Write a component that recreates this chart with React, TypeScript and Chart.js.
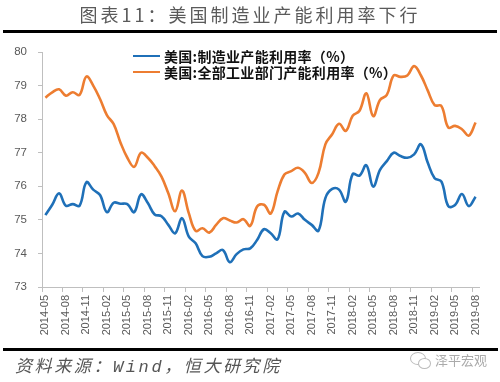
import { useEffect, useRef } from "react";
import { Chart, registerables } from "chart.js";

Chart.register(...registerables);

const months = [
  "2014-05", "2014-06", "2014-07", "2014-08", "2014-09", "2014-10", "2014-11", "2014-12",
  "2015-01", "2015-02", "2015-03", "2015-04", "2015-05", "2015-06", "2015-07", "2015-08",
  "2015-09", "2015-10", "2015-11", "2015-12",
  "2016-01", "2016-02", "2016-03", "2016-04", "2016-05", "2016-06", "2016-07", "2016-08",
  "2016-09", "2016-10", "2016-11", "2016-12",
  "2017-01", "2017-02", "2017-03", "2017-04", "2017-05", "2017-06", "2017-07", "2017-08",
  "2017-09", "2017-10", "2017-11", "2017-12",
  "2018-01", "2018-02", "2018-03", "2018-04", "2018-05", "2018-06", "2018-07", "2018-08",
  "2018-09", "2018-10", "2018-11", "2018-12",
  "2019-01", "2019-02", "2019-03", "2019-04", "2019-05", "2019-06", "2019-07", "2019-08",
];

const manufacturing = [
  75.14, 75.45, 75.79, 75.42, 75.47, 75.42, 76.12, 75.9,
  75.74, 75.23, 75.51, 75.48, 75.47, 75.23, 75.76, 75.5,
  75.16, 75.11, 74.85, 74.6,
  75.05, 74.5, 74.3, 73.92, 73.9, 74.0, 74.1, 73.74,
  73.98, 74.12, 74.15, 74.4,
  74.72, 74.6, 74.42, 75.24, 75.1, 75.19, 75.0, 74.85,
  74.68, 75.65, 75.92, 75.9,
  75.54, 76.36, 76.32, 76.63, 75.99, 76.49, 76.75, 77.0,
  76.9, 76.85, 76.95, 77.25,
  76.7, 76.24, 76.14, 75.41, 75.44, 75.77, 75.41, 75.69,
];

const totalIndustry = [
  78.64, 78.8, 78.89, 78.7, 78.8, 78.72, 79.27, 79.0,
  78.6, 78.12, 77.85, 77.3, 76.85, 76.58, 77.0, 76.85,
  76.6, 76.29, 75.79, 75.26,
  75.87, 75.2, 74.67, 74.75, 74.62, 74.85, 75.05, 74.98,
  74.92, 75.02, 74.82, 75.4,
  75.45, 75.19, 75.85, 76.35, 76.45, 76.55, 76.4, 76.1,
  76.4, 77.25, 77.55, 77.86,
  77.65, 78.1, 78.25, 78.77, 78.09, 78.57, 78.72, 79.3,
  79.26, 79.3, 79.58, 79.3,
  78.85, 78.42, 78.39, 77.75, 77.8, 77.7, 77.51, 77.9,
];

const seriesNames = ["美国:制造业产能利用率（%）", "美国:全部工业部门产能利用率（%）"];

const BLUE = "#1f70b8";
const ORANGE = "#ed7d31";
const AXIS = "#bfbfbf";
const LABEL = "#595959";
const CJK = '"Noto Sans CJK SC", "Noto Sans", sans-serif';

export default function App() {
  const ref = useRef<HTMLCanvasElement>(null);

  useEffect(() => {
    document.body.style.margin = "0";
    const chart = new Chart(ref.current as HTMLCanvasElement, {
      type: "line",
      data: {
        labels: months,
        datasets: [
          {
            label: seriesNames[0],
            data: manufacturing,
            borderColor: BLUE,
            backgroundColor: BLUE,
            borderWidth: 2.6,
            pointRadius: 0,
            tension: 0.4,
            fill: false,
          },
          {
            label: seriesNames[1],
            data: totalIndustry,
            borderColor: ORANGE,
            backgroundColor: ORANGE,
            borderWidth: 2.6,
            pointRadius: 0,
            tension: 0.4,
            fill: false,
          },
        ],
      },
      options: {
        responsive: false,
        animation: false,
        layout: { padding: { top: 52, right: 21, bottom: 40, left: 0 } },
        plugins: { legend: { display: false }, tooltip: { enabled: false } },
        scales: {
          x: {
            type: "category",
            offset: true,
            grid: {
              offset: true,
              drawOnChartArea: false,
              drawTicks: true,
              tickLength: 5,
              lineWidth: 1,
              tickColor: (c: any) => (c.index % 3 === 0 ? AXIS : "rgba(0,0,0,0)"),
            },
            border: { display: true, color: AXIS, width: 1 },
            ticks: {
              autoSkip: false,
              maxRotation: 90,
              minRotation: 90,
              padding: 3,
              color: LABEL,
              font: { family: '"Liberation Sans", Arial, sans-serif', size: 11 },
              callback: (_v: any, i: number) => (i % 3 === 0 ? months[i] : ""),
            },
            afterFit: (s: any) => {
              s.height = 55;
            },
          },
          y: {
            min: 73,
            max: 80,
            grid: { drawOnChartArea: false, drawTicks: true, tickLength: 4, tickColor: AXIS },
            border: { display: true, color: AXIS, width: 1 },
            ticks: {
              stepSize: 1,
              padding: 11,
              color: LABEL,
              font: { family: '"Liberation Sans", Arial, sans-serif', size: 11.5 },
            },
            afterFit: (s: any) => {
              s.width = 42;
            },
          },
        },
      },
    });
    return () => chart.destroy();
  }, []);

  const legendRow = (color: string, text: string, top: number) => (
    <div
      style={{
        position: "absolute",
        left: 133,
        top: top - 10,
        height: 20,
        display: "flex",
        alignItems: "center",
        whiteSpace: "nowrap",
      }}
    >
      <div style={{ width: 27, height: 2.6, background: color, marginRight: 4 }} />
      <span style={{ fontFamily: CJK, fontSize: 14, fontWeight: "bold", color: "#111", letterSpacing: 0.3 }}>
        {text}
      </span>
    </div>
  );

  return (
    <div
      style={{
        position: "absolute",
        left: 0,
        top: 0,
        width: 500,
        height: 382,
        background: "#fff",
        overflow: "hidden",
      }}
    >
      <canvas
        ref={ref}
        width={500}
        height={382}
        style={{ position: "absolute", left: 0, top: 0, width: 500, height: 382, display: "block" }}
      />
      <div
        style={{
          position: "absolute",
          left: 0,
          top: 2,
          width: 500,
          textAlign: "center",
          fontFamily: CJK,
          fontSize: 18,
          letterSpacing: 3,
          color: "#5a5a5a",
          lineHeight: "24px",
        }}
      >
        图表11：美国制造业产能利用率下行
      </div>
      <div style={{ position: "absolute", left: 3, top: 30, width: 494, height: 3, background: "#000" }} />
      {legendRow(BLUE, seriesNames[0], 56)}
      {legendRow(ORANGE, seriesNames[1], 72)}
      <div style={{ position: "absolute", left: 3, top: 348, width: 495, height: 3, background: "#000" }} />
      <div
        style={{
          position: "absolute",
          left: 15,
          top: 356,
          fontFamily: '"Liberation Mono", ' + CJK,
          fontStyle: "italic",
          fontSize: 17,
          letterSpacing: 2.6,
          color: "#555",
          lineHeight: "24px",
          whiteSpace: "nowrap",
        }}
      >
        资料来源：Wind，恒大研究院
      </div>
      <div
        style={{
          position: "absolute",
          left: 410,
          top: 352,
          width: 14,
          height: 11,
          border: "1.2px solid #bbb",
          borderRadius: "50%",
        }}
      />
      <div
        style={{
          position: "absolute",
          left: 418,
          top: 358,
          width: 11,
          height: 9,
          border: "1.2px solid #bbb",
          borderRadius: "50%",
          background: "#fff",
        }}
      />
      <div
        style={{
          position: "absolute",
          left: 435,
          top: 350,
          fontFamily: CJK,
          fontSize: 13,
          color: "#aaa",
          lineHeight: "20px",
          whiteSpace: "nowrap",
        }}
      >
        泽平宏观
      </div>
    </div>
  );
}
